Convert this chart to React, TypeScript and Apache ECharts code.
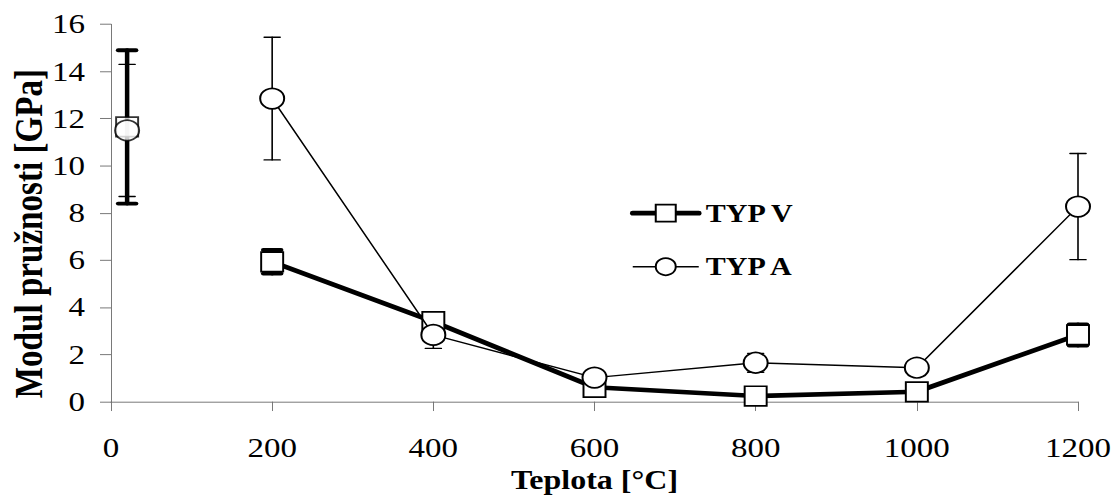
import React, { useEffect, useRef } from "react";
import * as echarts from "echarts";

const temps = [20, 200, 400, 600, 800, 1000, 1200];
const typV = [11.65, 5.93, 3.39, 0.61, 0.24, 0.42, 2.83];
const typVErr = [3.25, 0.5, 0, 0, 0, 0, 0.45];
const typA = [11.5, 12.85, 2.83, 1.02, 1.65, 1.44, 8.27];
const typAErr = [2.8, 2.6, 0.57, 0, 0.4, 0, 2.25];
const nameV = "TYP V";
const nameA = "TYP A";
const xTitle = "Teplota [°C]";
const yTitle = "Modul pružnosti [GPa]";

const W = 1115;
const H = 502;
const S = 0.8494;
const HC = Math.round(H / S);
const FONT = '"Liberation Serif", "Times New Roman", serif';

function errRender(width: number, cap: number) {
  return (params: any, api: any) => {
    const x = api.value(0);
    const lo = api.value(1);
    const hi = api.value(2);
    if (hi - lo <= 0) return { type: "group", children: [] };
    const p1 = api.coord([x, hi]);
    const p2 = api.coord([x, lo]);
    const st = { stroke: "#000", lineWidth: width, lineCap: "round" };
    const h = cap / 2;
    return {
      type: "group",
      children: [
        { type: "line", shape: { x1: p1[0], y1: p1[1], x2: p2[0], y2: p2[1] }, style: st },
        { type: "line", shape: { x1: p1[0] - h, y1: p1[1], x2: p1[0] + h, y2: p1[1] }, style: st },
        { type: "line", shape: { x1: p2[0] - h, y1: p2[1], x2: p2[0] + h, y2: p2[1] }, style: st },
      ],
    };
  };
}

export default function App() {
  const ref = useRef<HTMLDivElement>(null);
  useEffect(() => {
    if (!ref.current) return;
    const chart = echarts.init(ref.current, undefined, { renderer: "svg" });
    const vPts = temps.map((t, i) => [t, typV[i]]);
    const aPts = temps.map((t, i) => [t, typA[i]]);
    const vErr = temps.map((t, i) => [t, typV[i] - typVErr[i], typV[i] + typVErr[i]]);
    const aErr = temps.map((t, i) => [t, typA[i] - typAErr[i], typA[i] + typAErr[i]]);
    const markV = {
      symbol: "rect",
      symbolSize: [22, 23],
      itemStyle: { color: "#fff", borderColor: "#000", borderWidth: 2 },
    };
    const markA = {
      symbol: "circle",
      symbolSize: 24,
      itemStyle: { color: "#fff", borderColor: "#000", borderWidth: 2 },
    };
    chart.setOption({
      animation: false,
      backgroundColor: "#fff",
      textStyle: { fontFamily: FONT },
      grid: { left: 111, right: 37, top: 28.6, bottom: HC - 472.9, containLabel: false },
      xAxis: {
        type: "value",
        min: 0,
        max: 1200,
        interval: 200,
        name: xTitle,
        nameLocation: "middle",
        nameGap: 68,
        nameTextStyle: { fontFamily: FONT, fontWeight: "bold", fontSize: 32, color: "#000" },
        axisLine: { show: true, lineStyle: { color: "#6e6e6e", width: 1 } },
        axisTick: { show: true, length: 11, lineStyle: { color: "#6e6e6e" } },
        axisLabel: {
          fontFamily: FONT,
          fontSize: 33,
          color: "#000",
          margin: 38,
          formatter: (v: number) => String(v),
        },
        splitLine: { show: false },
      },
      yAxis: {
        type: "value",
        min: 0,
        max: 16,
        interval: 2,
        axisLine: { show: true, lineStyle: { color: "#6e6e6e", width: 1 } },
        axisTick: { show: true, length: 11, lineStyle: { color: "#6e6e6e" } },
        axisLabel: {
          fontFamily: FONT,
          fontSize: 33,
          color: "#000",
          margin: 26,
          formatter: (v: number) => String(v),
        },
        splitLine: { show: false },
      },
      legend: {
        orient: "vertical",
        left: 630,
        top: 236,
        padding: 0,
        itemWidth: 66,
        itemHeight: 25,
        itemGap: 33,
        data: [
          { name: nameV, lineStyle: { width: 5.5, color: "#000", cap: "round" } },
          { name: nameA, lineStyle: { width: 1.6, color: "#000" } },
        ],
        textStyle: { fontFamily: FONT, fontWeight: "bold", fontSize: 30, color: "#000", padding: [0, 0, 0, 2] },
      },
      graphic: [
        {
          type: "text",
          x: 29,
          y: 275,
          rotation: Math.PI / 2,
          style: {
            text: yTitle,
            fontFamily: FONT,
            fontWeight: "bold",
            fontSize: 39,
            fill: "#000",
            align: "center",
            verticalAlign: "middle",
          },
        },
      ],
      series: [
        {
          type: "custom",
          name: "errV",
          z: 1,
          renderItem: errRender(4.5, 18),
          encode: { x: 0, y: [1, 2] },
          data: vErr,
        },
        {
          type: "custom",
          name: "errA",
          z: 1,
          renderItem: errRender(1.6, 16),
          encode: { x: 0, y: [1, 2] },
          data: aErr,
        },
        {
          type: "line",
          name: nameV,
          z: 2,
          data: vPts.slice(1),
          ...markV,
          lineStyle: { color: "#000", width: 5.5, cap: "round" },
        },
        {
          type: "scatter",
          name: nameV + " 20",
          z: 2,
          data: vPts.slice(0, 1),
          ...markV,
        },
        {
          type: "line",
          name: nameA,
          z: 3,
          data: aPts.slice(1),
          ...markA,
          lineStyle: { color: "#000", width: 1.6 },
        },
        {
          type: "scatter",
          name: nameA + " 20",
          z: 3,
          data: aPts.slice(0, 1),
          ...markA,
        },
      ],
    });
    return () => chart.dispose();
  }, []);
  return (
    <div style={{ position: "absolute", left: 0, top: 0, width: W, height: H, overflow: "hidden", background: "#fff" }}>
      <div
        ref={ref}
        style={{ width: W, height: HC, transform: `scaleY(${S})`, transformOrigin: "0 0" }}
      />
    </div>
  );
}
